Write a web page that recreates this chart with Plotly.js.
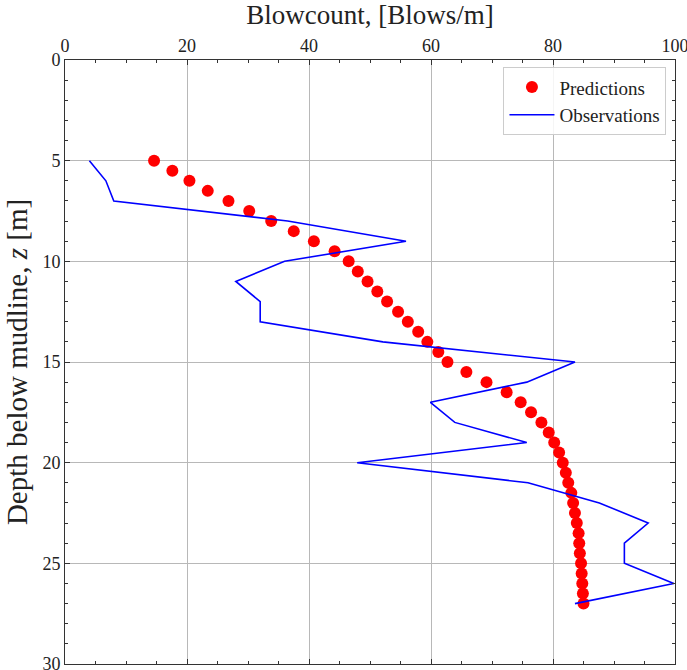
<!DOCTYPE html>
<html>
<head>
<meta charset="utf-8">
<script src="https://cdn.plot.ly/plotly-3.0.1.min.js"></script>
<style>html,body{margin:0;padding:0;background:#fff;}</style>
</head>
<body>
<div id="chart" style="width:687px;height:670px;"></div>
<script>
// Predictions (depth, blowcount)
const predDepth = [5,5.5,6,6.5,7,7.5,8,8.5,9,9.5,10,10.5,11,11.5,12,12.5,13,13.5,14,14.5,15,15.5,16,16.5,17,17.5,18,18.5,19,19.5,20,20.5,21,21.5,22,22.5,23,23.5,24,24.5,25,25.5,26,26.5,27];
const predBlows = [14.6,17.6,20.4,23.4,26.8,30.2,33.8,37.5,40.8,44.2,46.5,48.0,49.6,51.2,52.8,54.6,56.2,57.9,59.4,61.2,62.7,65.8,69.1,72.4,74.7,76.4,78.1,79.3,80.2,81.0,81.6,82.1,82.5,83.0,83.3,83.6,83.9,84.2,84.3,84.4,84.6,84.7,84.8,84.9,85.0];
// Observations (depth, blowcount)
const obsDepth = [5,6,7,8,9,10,11,12,13,14,15,16,17,18,19,20,21,22,23,24,25,26,27];
const obsBlows = [4.0,6.7,8.0,36.5,55.9,36.0,28.0,32.0,32.0,52.1,83.6,75.7,59.9,63.9,75.7,47.9,75.9,87.6,95.6,91.7,91.7,99.8,83.6];

const serif = "'Liberation Serif', 'DejaVu Serif', serif";

const traces = [
  {x: predBlows, y: predDepth, mode: 'markers', type: 'scatter', name: 'Predictions',
   marker: {color: '#ff0000', size: 12}},
  {x: obsBlows, y: obsDepth, mode: 'lines', type: 'scatter', name: 'Observations',
   line: {color: '#0000ff', width: 1.6}}
];

const axisCommon = {
  showline: true, linecolor: '#333', linewidth: 1, mirror: 'allticks',
  ticks: 'inside', ticklen: 5, tickcolor: '#333', tickwidth: 1,
  showgrid: true, gridcolor: '#b8b8b8', gridwidth: 1, zeroline: false,
  ticklabeloverflow: 'allow',
  tickfont: {family: serif, size: 18, color: '#222'}
};

const layout = {
  width: 687, height: 670,
  margin: {l: 65, r: 12, t: 60, b: 6},
  paper_bgcolor: '#fff', plot_bgcolor: '#fff',
  font: {family: serif, color: '#222'},
  showlegend: true,
  legend: {x: 0.986, y: 0.988, xanchor: 'right', yanchor: 'top',
    itemwidth: 45,
    bgcolor: 'rgba(255,255,255,0.85)', bordercolor: '#cccccc', borderwidth: 1,
    font: {family: serif, size: 19, color: '#222'}},
  xaxis: Object.assign({}, axisCommon, {
    side: 'top', range: [0, 100], tickvals: [0,20,40,60,80,100],
    minor: {dtick: 5, ticks: 'inside', ticklen: 3, tickcolor: '#333', showgrid: false},
    title: {text: 'Blowcount, [Blows/m]', font: {family: serif, size: 27, color: '#222'}, standoff: 4}
  }),
  yaxis: Object.assign({}, axisCommon, {
    range: [30, 0], tickvals: [0,5,10,15,20,25,30],
    minor: {dtick: 1, ticks: 'inside', ticklen: 3, tickcolor: '#333', showgrid: false},
    title: {text: 'Depth below mudline, <i>z</i> [m]', font: {family: serif, size: 29, color: '#222'}, standoff: 6}
  })
};

Plotly.newPlot('chart', traces, layout, {displayModeBar: false, staticPlot: true});
</script>
</body>
</html>
